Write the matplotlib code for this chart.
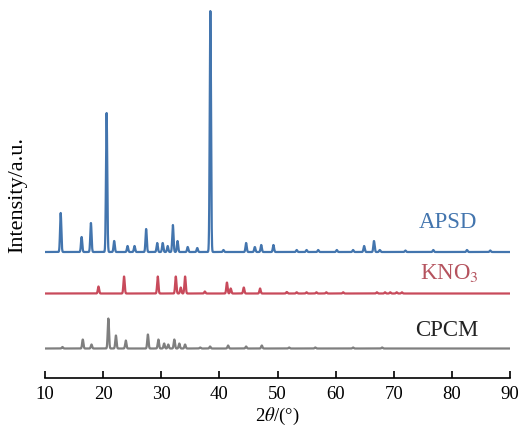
import numpy as np
import matplotlib
matplotlib.use("Agg")
import matplotlib.pyplot as plt

plt.rcParams['font.family'] = ['Liberation Serif', 'DejaVu Serif']
plt.rcParams['mathtext.fontset'] = 'stix'

# =========================
# peak data (2theta, relative height)
# =========================
apsd_pos = [12.7, 16.3, 17.9, 20.6, 21.9, 24.2, 25.4, 27.4, 29.3, 30.25, 31.1, 32.0, 32.8,
            34.55, 36.2, 38.45, 40.7, 44.6, 46.1, 47.2, 49.3, 53.3, 55.0, 57.0, 60.2, 63.0,
            64.9, 66.6, 67.6, 72.0, 76.8, 82.6, 86.6]
apsd_h = [39, 15, 29, 139, 11, 6, 6, 23, 9, 9, 6, 27, 11,
          5, 4, 241, 2, 9, 5, 7, 7, 2, 2, 2, 2, 2,
          6, 11, 2, 1.5, 2, 2, 1.5]

kno3_pos = [19.2, 23.6, 29.4, 32.5, 33.35, 34.1, 37.5, 41.3, 41.95, 44.2, 47.0, 51.6,
            53.3, 55.0, 56.7, 58.4, 61.3, 67.1, 68.5, 69.4, 70.5, 71.4]
kno3_h = [7, 17, 17, 17, 6, 17, 2, 11, 5, 6, 5, 1.5,
          1.2, 1.2, 1.2, 1.2, 1.2, 1.2, 1.2, 1.2, 1.2, 1.2]

cpcm_pos = [13.0, 16.5, 18.0, 20.9, 22.2, 23.9, 27.7, 29.5, 30.5, 31.2, 32.25, 33.1, 34.1,
            36.7, 38.4, 41.5, 44.6, 47.3, 52.0, 56.5, 63.0, 68.0]
cpcm_h = [1.5, 9, 4, 30, 13, 8, 14, 9, 5, 4, 9, 5, 4,
          1, 2, 3, 2, 3, 1, 1, 1, 1]

# vertical offsets of the stacked patterns
offsets = {"APSD": 126, "KNO3": 84.5, "CPCM": 29.5}
colors = {"APSD": "#4375ae", "KNO3": "#c84a5b", "CPCM": "#7f7f7f"}

x = np.linspace(10, 90, 4000)


def pattern(pos, h, w=0.11):
    y = np.zeros_like(x)
    for p, a in zip(pos, h):
        y += a * np.exp(-0.5 * ((x - p) / w) ** 2)
    return y


fig = plt.figure(figsize=(5.23, 4.41), dpi=100)
ax = fig.add_axes([45 / 523, 63 / 441, 465 / 523, 373 / 441])

ax.plot(x, offsets["APSD"] + pattern(apsd_pos, apsd_h), color=colors["APSD"], lw=1.6)
ax.plot(x, offsets["KNO3"] + pattern(kno3_pos, kno3_h), color=colors["KNO3"], lw=1.6)
ax.plot(x, offsets["CPCM"] + pattern(cpcm_pos, cpcm_h), color=colors["CPCM"], lw=1.6)

ax.set_xlim(10, 90)
ax.set_ylim(0, 373)
for s in ["top", "left", "right"]:
    ax.spines[s].set_visible(False)
ax.spines["bottom"].set_linewidth(1.2)
ax.set_xticks(np.arange(10, 91, 10))
ax.tick_params(axis="x", direction="in", length=5, width=1.2, labelsize=13.5, pad=6)
ax.set_yticks([])

ax.text(79.3, 155.5, "APSD", color=colors["APSD"], fontsize=16.5, ha="center", va="center")
ax.text(79.6, 105.5, "KNO$_3$", color="#b5535e", fontsize=16.5, ha="center", va="center")
ax.text(79.1, 47.5, "CPCM", color="#222222", fontsize=16.5, ha="center", va="center")

ax.set_xlabel(r"2$\it{\theta}$/(°)", fontsize=13.5, labelpad=2)
fig.text(18 / 523, 1 - 195 / 441, "Intensity/a.u.", rotation=90, fontsize=16,
         ha="center", va="center")

fig.savefig("out.png", dpi=100)
